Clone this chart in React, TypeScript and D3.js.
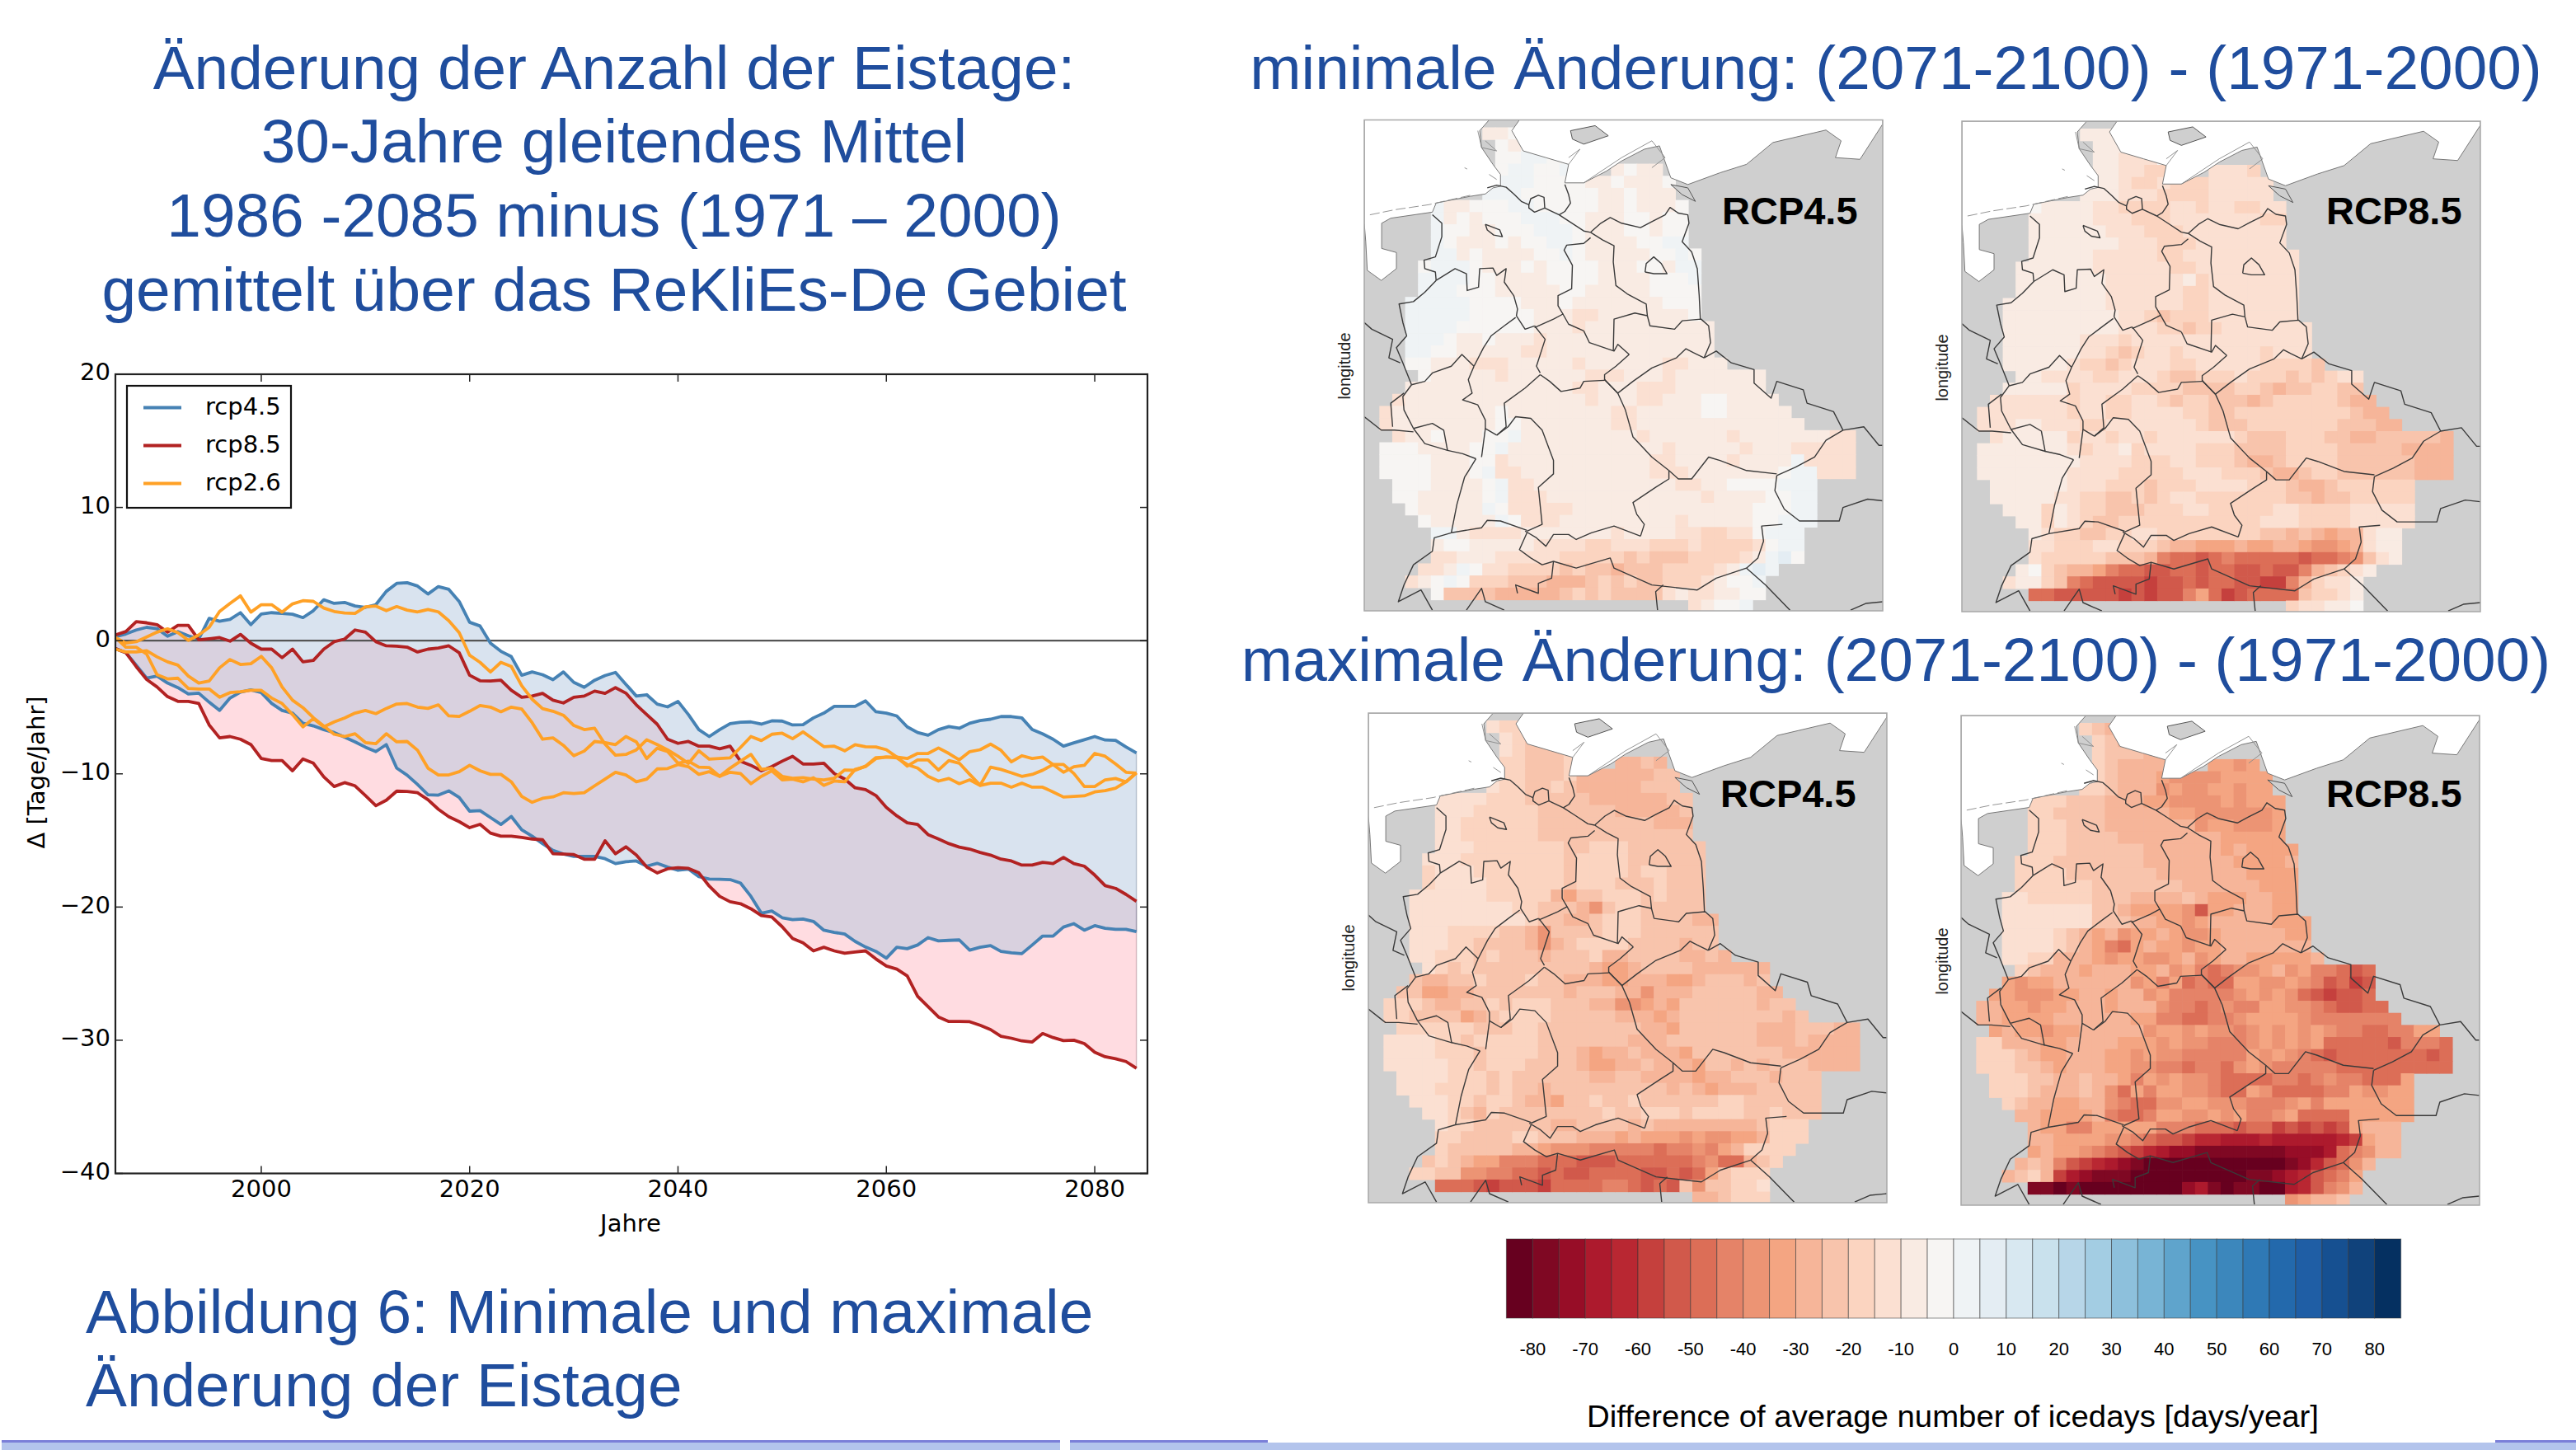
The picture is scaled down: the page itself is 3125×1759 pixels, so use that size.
import React from "react";
import * as d3 from "d3";

// ---------- line chart data (one value per year, 1986..2084) ----------
const years = d3.range(1986, 2085);
const rcp45Max = [0.3,0.5,0.8,1.0,0.9,0.33,0.68,0.37,0.12,1.67,1.46,1.6,2.1,1.2,2.0,2.1,2.04,1.98,1.73,2.25,3.07,2.8,2.87,2.6,2.5,2.7,3.7,4.3,4.35,4.1,3.5,4.06,3.85,2.94,1.38,1.1,-0.19,-0.8,-1.2,-2.6,-2.35,-2.56,-2.93,-2.35,-3.13,-3.5,-2.97,-2.62,-2.39,-3.28,-4.16,-4.06,-4.76,-4.97,-4.56,-5.55,-6.68,-7.2,-6.68,-6.23,-6.12,-6.1,-6.27,-6.02,-6.04,-6.33,-6.31,-5.8,-5.44,-4.93,-4.93,-4.93,-4.52,-5.34,-5.44,-5.65,-6.47,-6.9,-7.1,-6.68,-6.45,-6.58,-6.2,-6.0,-5.9,-5.7,-5.7,-5.8,-6.68,-7.0,-7.4,-7.92,-7.67,-7.44,-7.2,-7.46,-7.49,-7.98,-8.43];
const rcp45Min = [-0.6,-0.9,-1.85,-2.82,-2.66,-3.18,-3.53,-4.0,-3.94,-4.62,-5.24,-4.31,-3.86,-3.7,-3.9,-4.72,-5.24,-5.44,-6.2,-6.4,-6.68,-6.9,-7.24,-7.6,-8.0,-8.33,-7.8,-9.57,-10.1,-10.8,-11.57,-11.6,-11.28,-11.77,-12.8,-12.76,-13.28,-13.8,-13.2,-14.2,-14.68,-15.24,-15.75,-16.02,-16.2,-16.2,-16.2,-16.37,-16.74,-16.6,-16.54,-16.93,-16.72,-17,-17.24,-17.15,-17.72,-17.9,-17.92,-17.94,-18.2,-19.2,-20.46,-20.3,-20.8,-20.95,-20.9,-21.08,-21.74,-21.9,-22.03,-22.58,-23.0,-23.33,-23.84,-23.02,-23.13,-22.85,-22.3,-22.54,-22.5,-22.47,-23.24,-23.02,-22.9,-23.33,-23.44,-23.5,-22.85,-22.18,-22.18,-21.5,-21.25,-21.74,-21.4,-21.6,-21.67,-21.67,-21.85];
const rcp85Max = [0.43,0.68,1.42,1.34,1.2,0.64,1.15,1.15,0.06,0.14,0.23,-0.04,0.47,-0.19,-0.64,-0.64,-1.28,-0.64,-1.59,-1.48,-0.64,-0.08,0.12,0.8,0.64,-0.08,-0.39,-0.41,-0.49,-0.85,-0.64,-0.56,-0.39,-0.91,-2.6,-3.01,-3.03,-2.97,-3.73,-4.25,-4.16,-3.96,-4.47,-4.68,-4.25,-4.16,-3.79,-3.96,-3.53,-3.94,-4.82,-5.55,-6.27,-7.4,-7.71,-7.57,-7.92,-7.92,-8.12,-7.92,-9.05,-9.36,-9.77,-9.46,-9.05,-8.68,-9.26,-9.26,-9.2,-9.98,-10.39,-11.05,-11.18,-11.63,-12.52,-13.15,-13.67,-13.8,-14.56,-14.89,-15.24,-15.5,-15.65,-15.9,-16.1,-16.4,-16.54,-16.85,-16.85,-16.64,-16.74,-16.27,-16.74,-16.93,-17.6,-18.39,-18.6,-19.05,-19.57];
const rcp85Min = [-0.6,-0.9,-1.95,-2.91,-3.48,-4.2,-4.56,-4.56,-4.72,-6.33,-7.3,-7.2,-7.4,-7.8,-8.85,-9.0,-9.0,-9.77,-8.88,-9.2,-10.23,-10.95,-10.66,-10.9,-11.63,-12.39,-11.98,-11.3,-11.32,-11.42,-11.94,-12.66,-13.22,-13.59,-14.04,-13.79,-14.45,-14.68,-14.68,-14.78,-14.89,-14.95,-16.0,-16.02,-16.06,-16.41,-16.41,-15.03,-16.0,-15.48,-16.1,-17,-17.44,-17.13,-17.05,-17.1,-17.43,-18.43,-19.2,-19.6,-19.75,-20.13,-20.64,-20.75,-21.48,-22.36,-22.69,-23.29,-23.02,-23.29,-23.47,-23.37,-23.29,-23.9,-24.43,-24.66,-25.17,-26.7,-27.48,-28.25,-28.59,-28.59,-28.61,-28.88,-29.2,-29.7,-29.85,-30.05,-30.13,-29.5,-29.8,-30.03,-30.0,-30.25,-30.9,-31.24,-31.39,-31.6,-32.1];
const rcp26A = [0.23,-0.19,-0.08,0.27,0.64,0.89,0.6,0.02,0.43,1.0,2.19,2.8,3.36,2.14,2.7,2.7,2.14,2.76,3.0,2.95,2.45,2.19,2.08,2.04,2.54,2.6,2.25,2.56,2.29,2.16,2.34,2.16,1.5,0.6,-1.1,-1.63,-2.35,-1.63,-1.94,-3.38,-4.4,-5.1,-5.3,-5.6,-6.37,-6.68,-6.58,-7.77,-8.6,-8.54,-8.2,-7.44,-7.8,-8.2,-8.68,-9.22,-8.27,-8.9,-8.85,-8.8,-8.02,-7.2,-7.5,-7.03,-6.95,-7.36,-6.85,-7.4,-7.96,-7.92,-8.27,-7.81,-7.96,-7.98,-8.19,-8.74,-9.42,-8.95,-8.95,-9.71,-9.0,-9.2,-10.04,-10.85,-9.5,-9.67,-9.92,-10.19,-10.04,-9.73,-9.3,-9.3,-9.98,-10.95,-10.95,-10.45,-10.35,-10.6,-9.92];
const rcp26B = [0.23,-0.49,-0.49,-1.01,-2.56,-2.87,-2.82,-3.59,-3.63,-3.63,-4.25,-3.9,-3.84,-3.73,-3.73,-4.31,-4.72,-5.55,-6.47,-5.86,-6.47,-6.1,-5.81,-5.44,-5.24,-5.48,-5.09,-4.76,-4.72,-4.99,-5.09,-4.82,-5.65,-5.69,-5.3,-4.87,-4.99,-5.34,-4.99,-5.13,-6.16,-7.4,-7.3,-7.86,-8.64,-8.29,-7.57,-7.65,-7.81,-7.2,-7.6,-8.85,-8.08,-8.33,-9.2,-9.05,-9.5,-9.53,-10.19,-9.57,-9.05,-8.54,-9.67,-9.57,-10.19,-10.33,-10.29,-10.39,-10.45,-10.33,-9.71,-9.73,-9.42,-8.78,-8.74,-8.74,-8.85,-8.47,-8.47,-8.06,-8.47,-8.95,-8.33,-8.19,-7.77,-8.23,-9.1,-8.64,-8.85,-8.74,-9.3,-9.88,-9.47,-9.36,-8.47,-8.68,-9.26,-9.88,-9.94];
const rcp26C = [-0.64,-0.85,-0.85,-0.76,-1.22,-1.59,-1.84,-2.66,-3.18,-3.03,-2.04,-1.42,-1.79,-1.73,-1.18,-2.04,-3.48,-4.47,-5.03,-5.79,-6.41,-7.03,-7.2,-6.99,-7.65,-7.73,-6.99,-7.6,-7.57,-8.23,-9.57,-10.08,-10.08,-9.84,-9.36,-9.77,-10.04,-10.04,-10.6,-11.69,-12.14,-11.84,-11.73,-11.42,-11.48,-11.42,-10.9,-10.4,-9.88,-10.08,-10.6,-10.4,-9.63,-9.6,-9.3,-9.46,-10.04,-9.84,-10.19,-9.88,-9.98,-10.74,-10.19,-9.77,-10.45,-10.4,-10.6,-10.29,-10.87,-10.54,-10.6,-9.67,-9.46,-8.85,-8.74,-8.8,-9.3,-9.57,-10.19,-10.54,-10.35,-10.74,-10.45,-10.87,-10.7,-10.7,-11.0,-10.7,-11.0,-11.0,-11.36,-11.74,-11.7,-11.65,-11.36,-11.26,-11.07,-10.6,-9.92];
const yTicks = [-40, -30, -20, -10, 0, 10, 20];
const xTicks = [2000, 2020, 2040, 2060, 2080];
const legendItems = [["rcp4.5", "#4682b4"], ["rcp8.5", "#b22222"], ["rcp2.6", "#ffa126"]];

// ---------- colour legend ----------
const ramp = ["#67001f","#7f0823","#970d27","#ad1a2d","#b92732","#c5403d","#d1594b","#dc6e57","#e58368","#ec9474","#f4a582","#f6b599","#f8c4ac","#fbd4c0","#fbe0d2","#f9ebe3","#f7f5f3","#eff3f5","#e4edf3","#d8e8f1","#c9e1ed","#b7d6e8","#a3cde3","#8dc0dc","#78b4d5","#5fa4cc","#4793c3","#3c87bc","#2f79b5","#2369ac","#1f5ea5","#165091","#10427b","#053061"];
const rampKeys = "0123456789abcdefghi";
const rampLabels = d3.range(-80, 81, 10);

// ---------- map grids: each char is a colour class of the ramp, '.' = no data ----------
const mapMinRcp45 = [
"........ffgg",".........gfggf",".........gghhgg",".........ghhggh...fgff",".........hhhggggffgfffg","........hhhggggggffgfff",
"....hffggghhgggggffgfffg","....hfgfggghhhggfffggfgg","....hggffggghhhgfffggfgg","....hgfffgfgghhgffffgghh","....hhfgffffgghgfffffgghg",
"...ghhhgfffgfggggfffggfhh","...hhhhggffffggggffffgggh","...hhhgggfffffggfffffgggg","..hhhhhggggfffgfffffffggg","..hhhhhgggggfffeefffffffg",
"..hhhhggggggfffeffffffffff","..hhhgffgfffefffffffffffff","..hhggfffffeefffffffffffff","..ggfffeeefffffeffffffeefff","...gfffffeffffffeeefffefffffff",
"..fffffffffffffeefffeeefffffff",".effffffffffffffefffeefffggffff","effffffffgffffffffeefffffggfffff","effffffffggfffffffeefffffffffffff",".effgfffgghfffffffffeffffffefffffffee",
"gggffffgghffffffffffffefffffefffeeeee","ggggfffggefffffffffffeeffffeffffheeee","ggggfffgheeffffffffffeeefffffffghheee",".gggffffgheefffffffffffeeffgggghhh",".ggfffffgheeeffffffffffffeffffgghh",
"..gfffffhgeeeeeffffffffffffffggghh","...gfffffhgeeefffffffffefffffgghhh","....hhfeeeefffffffeffffeeddeeghhh","....fggfffffeeeeddeeedddeddddeghh","....eefffeeeeedddddcdcccddddefhig",
"...eefhgeeddddcdccbcccddddefhih","..efghgdddcccbbbcdcdccdddefggh","....gccccbbbbbcdcdccccefeeffgg","........................efggh"];
const mapMinRcp85 = [
"........fffe",".........fffee",".........ffeeeg",".........ffeedd...eeed",".........ffeddedddeeeee","........fffeeeddddeeeee",
"....gffffeeddddeedeeddee","....fffffeeedddeeeeeeedd","....ffffffeeedddeeeeeeee","....fffffffeeedddeeeeeee","....fffffeeeeeddeeeeeeeee",
"...ffffffeeeeeeddeeeeeeee","...fffffffeeeeeefdeeeeeee","...fffffffeeeeeeddeeeeeee","..ffffffffeeeeeeddeeeeeee","..fffffffffeedcdddeeeeeee",
"..fffffffffeeeddcddeeeeeee","..ffffffeeedeeeeeeeeeeeeee","..ffffffeedcdeedeeeeeedeee","..fffffeddcdeeeddeeeeeddddc","...ffeeeeddeeedccdddedddcdcdee",
"..fffffdeeeeddddccccddcbccddcc",".eeeeeedeeddeedcddcccbcdddddcbb","eeeeeeedeeddeeeeddccdddddddddcbb","eeeffeeeddeeeeeeedcccdddddddcccbb",".efffffdeedeedeeeeeedcccdddccbbcccccb",
"fffffffedeefdeeeedddccccddddcccccbbbb","ffffffffeeeedddeedddcbbcddddccccccbbb","fffffffeeeedddddeeedddcbbcddccccccbbb",".ffffffeeedddcdddeeeedddcbbcdddddd",".fffffeeddccdcdeedddddddccbccddddd",
"..fffdfeddcccdddeedddddeeddddeeeee","...ffdfedccdddddddddddeeeddddeeeee","....feddccddeeddddddddccbcbabbeff","....eedddeedddcbbaaabaabba99abeff","....edddddcccb8776787777767789cef",
"...fgdcbba8776677677667668bcdef","..effdc876666566767766558bdeef","....7766666565668a7567777cddef","........................deeffg"];
const mapMaxRcp45 = [
"........eddd",".........edccd",".........edcccd",".........ddcccd...bbcb",".........ddcccdbbbbbbcc","........eddccdcbbbbbccc",
"....eeeedddcccccbbbbbbcc","....eeedddddccccccbbbbbc","....eeddddddcccccccccbbb","....eeddddddcccccccccccc","....eeedddddddccdddcccccc",
"...eeeddddddddcddddcccccc","...deeedddddddcddddcddccc","...deeeeddddddcdddcccdccc","..eeeeeedddddbaccdddcdccc","..eeeeeeeeddcccb9cddccccc",
"..eeeeeeeeedccbbcdddccccbb","..eeeddddccb9ccccdddcccccc","..eeeddccccb9bcddddccccbcc","..eedddcdcccbcccdbbccccbbcb","...edcdcccccccccbaabccccbbbbbb",
"..cbbccdcccdccbbbaabbbaabcccbc",".ccaabbcccccccbcccbb9bbbcccccbb","dddcbbccdcdddcccbb99abaccccccbcc","ddccccabcddddcccccbbbabccccccccbc",".ddddddcccddccccccccbbaccccccbbbcccbb",
"eeeeddcdddddcccccccbbbcccccccbbbcbbbb","eeeedddcddddcccbabbcbbbacccccccbbbbbb","eeeeeddcdddccccbaabbcbbbaccbcbcccbbbb",".eeeedddcdccccccbbccbbbbabbcccbccc",".eeeddddcdccbcccccccccbcbabbbccccc",
"..eeeddcddcbbaccdccdccccccddcccccc","...eedcbdccccccccdccdddcddddccdccc","....eddccccccbbccccbcbbbbbbbbcddd","....ddccccddcccbbbabaaa9a99aabddd","....dcccccbba9998888878898abdddd",
"...cdcbaa8887776667777778977bcd","..ddcc9988776766777766767acddd","....7776566657777887676c9ccdde","........................bbcddd"];
const mapMaxRcp85 = [
"........dcbb",".........dcbbb",".........dcccbb",".........dcbbbb...aa9a",".........dcbbba9999aaaa","........ddcbbb9a99aa9aa",
"....dddcccbbbaa9999a9aaa","....ddccccbbbbbaa999999a","....dddcccbbbbbbb9aa999a","....dddccccbbbbbbbbaaaaa","....dddccccccbbbbbbabaaaa",
"...dddcccccccbbbbbbbaaaab","...ddddcccccccbbbbbbbaaaa","...ddddddcccccccbbbbbbaaa","..eedddddcccbbbbcbaaabbaa","..eeeeeeeccbaaaa96aabbbaa",
"..eeeeeeecccbbaa9abbbbbaaa","..eeeedcbab9aaba99abbbbbaa","..eeeedcba87abaa9aabbbbbbb","..eeddbbba9aa99ab9abbaaaaab","...dcbbbabbbaab9a87899ab9a88767",
"..a9aabbbbbb9a8a7877aa99a986756",".aa999aabbabb9a888889a9a9765667","bbaa9aabbbabbb98878988aa99876677","bbaaaabbbbbbaa8877889aaaa98888888",".abaa9aabbbbb9aa9a9989a9a9a9887788aa",
"ddbbbaabbbbaaa9a998889a9a9a7777768887","dddcbaabbbaa9a9988888a9a9876777777767","dddccbabbbaa998878879a988888777777777",".dddccbbcbba8a9a99877778878988777a",".dddcbbbcb97a8aa99877a9777788a99aa",
"..dcbbaabb987799aa9998889a8aaaaaaa","...bbaaaab8778aa99a9a889a7777aaaaa","....baa88aaaaa888777677565656abbb","....bbaaaa99876654433343333345abb","....abaa98765432211111112223789bb",
"...bcb865432100000000000124679b","..bcdb53211100000000011234678a","....1101000000002310110034689b","........................9abbc"];

// ---------- geography, in a shared map coordinate system ----------
const seaPolygon = [[120,38],[120,345],[124,400],[128,485],[165,515],[205,480],[205,432],[166,420],[166,345],[190,330],[300,312],[310,285],[400,265],[440,258],[460,240],[480,235],[480,200],[460,170],[430,120],[425,70],[450,38],[530,38],[510,70],[540,130],[600,150],[660,170],[650,225],[700,225],[760,190],[800,160],[860,125],[900,115],[930,210],[975,230],[1060,195],[1130,170],[1200,105],[1340,68],[1380,100],[1365,150],[1430,155],[1490,50],[1490,38]];
const islands = [[[665,70],[730,55],[765,85],[700,110],[670,95]],[[930,230],[975,240],[995,280],[960,260]]];
const coastLines = [
[[135,320],[200,305],[290,290],[400,262]],
[[420,70],[430,120],[470,130],[440,100]],[[660,170],[690,125],[660,150]],[[700,225],[800,150],[880,100],[915,150],[880,180]],
[[385,180],[392,184]],[[450,200],[470,215]],
];
const borders = [
[[445,240],[470,232],[495,238],[515,258],[535,280],[555,290]],
[[555,290],[560,272],[580,262],[595,268],[597,300],[570,312],[555,300],[555,290]],
[[650,230],[660,260],[665,285],[650,310],[635,320]],
[[597,300],[635,320],[665,342],[700,368],[718,372]],
[[718,372],[745,345],[770,328],[800,345],[850,358],[880,340],[915,320],[928,298],[950,315],[975,320],[978,345],[960,400],[985,430],[1000,480],[1005,560],[1008,630]],
[[718,372],[750,395],[780,412],[778,460],[785,530],[815,555],[865,585],[868,620]],
[[718,388],[700,405],[655,410],[648,425],[670,470],[668,540],[632,560],[632,590],[645,615]],
[[300,320],[325,345],[325,385],[308,445],[278,455],[280,480],[308,490],[310,515]],
[[310,515],[360,480],[390,495],[392,545],[422,535],[425,480],[460,478],[470,500],[495,480],[490,520],[515,560],[525,600],[522,620]],
[[310,515],[280,550],[250,578],[212,585],[222,640],[232,680],[205,715],[222,760],[245,825]],
[[245,825],[280,815],[300,790],[350,770],[378,735],[410,770]],
[[410,770],[435,715],[455,680],[490,650],[520,625]],
[[522,620],[545,660],[570,650]],
[[570,650],[598,690],[575,770],[585,790]],
[[570,655],[620,630],[645,615],[660,645],[700,665]],
[[700,665],[715,700],[780,725],[790,705],[820,735]],
[[868,620],[835,612],[780,630],[778,725]],
[[868,620],[875,650],[940,660],[960,635],[1010,630],[1030,650],[1035,700],[1018,745]],
[[1018,745],[990,730],[970,718],[945,745],[880,775],[830,815],[790,850],[755,810]],
[[820,735],[785,770],[755,795],[755,812]],
[[755,812],[700,815],[690,835],[640,845],[610,815],[585,795]],
[[585,795],[545,835],[490,880],[495,950],[470,975]],
[[410,770],[395,810],[405,850],[380,870],[420,885],[440,930],[440,955],[470,975]],
[[470,975],[500,950],[520,920],[560,925],[590,960],[620,1050],[620,1090],[580,1130],[590,1240],[550,1260]],
[[440,955],[430,1040]],
[[245,825],[222,860],[225,900],[250,955]],
[[250,955],[300,940],[330,960],[340,1020],[280,1000],[250,955]],
[[340,1020],[380,1030],[415,1045]],
[[415,1045],[385,1100],[365,1180],[350,1265]],
[[350,1265],[430,1250],[445,1228],[480,1230],[550,1258]],
[[545,1260],[575,1280],[600,1305],[620,1270],[660,1270],[680,1285],[720,1265],[780,1245],[850,1275]],
[[850,1275],[860,1240],[840,1210],[830,1175],[890,1130],[925,1105],[925,1080]],
[[925,1080],[950,1105],[985,1105],[1030,1040],[1060,1050],[1130,1080],[1210,1090]],
[[755,810],[790,850],[810,900],[830,980],[880,1040],[925,1080]],
[[1018,745],[1050,725],[1090,760],[1150,780],[1150,820],[1195,865],[1210,815],[1280,840],[1290,880],[1360,905],[1385,960]],
[[1385,960],[1340,990],[1310,1040],[1260,1070],[1210,1095]],
[[1385,960],[1440,950],[1480,1005],[1490,1005]],
[[1210,1095],[1205,1140],[1230,1195],[1270,1230],[1375,1230],[1385,1190],[1450,1165],[1490,1170]],
[[1225,1240],[1170,1245],[1175,1290],[1160,1340],[1130,1370],[1050,1400],[1000,1435],[880,1420],[780,1370],[770,1340],[680,1370],[620,1350],[590,1360],[560,1340],[530,1315],[550,1265]],
[[620,1350],[615,1400],[580,1415],[580,1445],[520,1420],[525,1445]],
[[350,1265],[305,1280],[300,1320],[250,1360],[225,1420],[210,1470],[270,1435],[300,1495]],
[[390,1495],[430,1430],[440,1470],[490,1495]],
[[1130,1370],[1180,1420],[1245,1495]],
[[895,1495],[890,1440],[910,1420]],
[[1405,1495],[1445,1475],[1490,1470]],
[[120,640],[140,660],[195,690],[185,745],[215,760]],
[[120,920],[165,960],[200,960],[250,965]],
[[225,850],[190,880],[195,950]],
[[440,348],[478,365],[485,385],[462,380],[445,365],[440,348]],
[[862,490],[865,465],[885,445],[905,465],[920,495],[885,495],[862,490]],
];

const mapPanels = [
  { grid: mapMinRcp45, frame: [1655, 145.5, 2284, 741], label: "RCP4.5", lx: 2089, ly: 272, ax: 1638, ay: 444 },
  { grid: mapMinRcp85, frame: [2380, 147, 3009, 742], label: "RCP8.5", lx: 2822, ly: 272, ax: 2363, ay: 446 },
  { grid: mapMaxRcp45, frame: [1660, 865, 2289, 1459], label: "RCP4.5", lx: 2087, ly: 979, ax: 1643, ay: 1162 },
  { grid: mapMaxRcp85, frame: [2379, 868, 3008, 1462], label: "RCP8.5", lx: 2822, ly: 979, ax: 2363, ay: 1166 },
];

const titleColor = "#1f4d9d";
const sans = "'Liberation Sans', Arial, sans-serif";
const dejavu = "'DejaVu Sans', sans-serif";
const titleSize = 74.8;
const leftTitle = ["Änderung der Anzahl der Eistage:", "30-Jahre gleitendes Mittel", "1986 -2085 minus (1971 – 2000)", "gemittelt über das ReKliEs-De Gebiet"];
const leftBaselines = [108, 197, 287, 377];

function GridMap({ panel, id }: any) {
  const [x0, y0, x1, y1] = panel.frame;
  const gx = d3.scaleLinear().domain([120, 1490]).range([x0, x1]);
  const gy = d3.scaleLinear().domain([38, 1497]).range([y0, y1]);
  const col = d3.scaleLinear().domain([0, 37]).range([160, 160 + 34 * 37]);
  const row = d3.scaleLinear().domain([0, 40]).range([60, 60 + 36 * 40]);
  const line = d3.line<number[]>().x((d) => gx(d[0])).y((d) => gy(d[1]));
  const cells: any[] = [];
  panel.grid.forEach((r: string, ri: number) => {
    r.split("").forEach((ch: string, ci: number) => {
      const k = rampKeys.indexOf(ch);
      if (k < 0) return;
      const left = gx(col(ci)), right = gx(col(ci + 1));
      const top = gy(row(ri)), bot = gy(row(ri + 1));
      cells.push(<rect key={ri + "-" + ci} x={left} y={top} width={right - left + 0.6} height={bot - top + 0.6} fill={ramp[k]} />);
    });
  });
  return (
    <g>
      <clipPath id={id}><rect x={x0} y={y0} width={x1 - x0} height={y1 - y0} /></clipPath>
      <g clipPath={`url(#${id})`}>
        <rect x={x0} y={y0} width={x1 - x0} height={y1 - y0} fill="#cfcfcf" />
        <g>{cells}</g>
        <path d={line(seaPolygon as any) + "Z"} fill="#fff" stroke="#777" strokeWidth={1} />
        {islands.map((p, i) => <path key={i} d={line(p as any) + "Z"} fill="#cfcfcf" stroke="#555" strokeWidth={1} />)}
        {coastLines.map((b, i) => <path key={i} d={line(b as any) as string} fill="none" stroke="#888" strokeWidth={0.9} strokeDasharray={i === 0 ? "12 4" : undefined} />)}
        {borders.map((b, i) => <path key={i} d={line(b as any) as string} fill="none" stroke="#3a3a3a" strokeWidth={1.4} strokeLinejoin="round" />)}
      </g>
      <rect x={x0} y={y0} width={x1 - x0} height={y1 - y0} fill="none" stroke="#a8a8a8" strokeWidth={1.5} />
      <text x={panel.lx} y={panel.ly} fontFamily={sans} fontWeight="bold" fontSize={47}>{panel.label}</text>
      <text transform={`translate(${panel.ax},${panel.ay}) rotate(-90)`} textAnchor="middle" fontFamily={sans} fontSize={20} fill="#222">longitude</text>
    </g>
  );
}

export default function App() {
  const x = d3.scaleLinear().domain([1986, 2085.06]).range([140, 1392]);
  const y = d3.scaleLinear().domain([-40, 20]).range([1423.5, 454]);
  const line = d3.line<number>().x((_, i) => x(years[i])).y((d) => y(d));
  const band = (lo: number[], hi: number[]) =>
    d3.area<number>().x((_, i) => x(years[i])).y0((_, i) => y(lo[i])).y1((_, i) => y(hi[i]))(years as any) as string;
  const [px0, px1] = x.range();
  const [py0, py1] = y.range();
  const swatch = d3.scaleLinear().domain([-85, 85]).range([1827.4, 2912.6]);
  return (
    <svg width={3125} height={1759} style={{ position: "absolute", left: 0, top: 0, background: "#fff" }}>
      {leftTitle.map((t, i) => (
        <text key={t} x={745} y={leftBaselines[i]} textAnchor="middle" fontFamily={sans} fontSize={titleSize} fill={titleColor}>{t}</text>
      ))}
      <text x={2300} y={108} textAnchor="middle" fontFamily={sans} fontSize={titleSize} fill={titleColor}>minimale Änderung: (2071-2100) - (1971-2000)</text>
      <text x={2300} y={826} textAnchor="middle" fontFamily={sans} fontSize={titleSize} fill={titleColor}>maximale Änderung: (2071-2100) - (1971-2000)</text>
      <text x={104} y={1617} fontFamily={sans} fontSize={titleSize} fill={titleColor}>Abbildung 6: Minimale und maximale</text>
      <text x={104} y={1706} fontFamily={sans} fontSize={titleSize} fill={titleColor}>Änderung der Eistage</text>

      {/* line chart */}
      <path d={band(rcp85Min, rcp85Max)} fill="#ffb6c1" fillOpacity={0.48} stroke="#8a5a66" strokeOpacity={0.35} strokeWidth={1.5} />
      <path d={band(rcp45Min, rcp45Max)} fill="#b0c4de" fillOpacity={0.48} stroke="#5a6a88" strokeOpacity={0.35} strokeWidth={1.5} />
      <line x1={px0} x2={px1} y1={y(0)} y2={y(0)} stroke="#555" strokeWidth={2.2} />
      {[rcp45Max, rcp45Min].map((s, i) => <path key={i} d={line(s) as string} fill="none" stroke="#4682b4" strokeWidth={3.8} strokeLinejoin="round" />)}
      {[rcp85Max, rcp85Min].map((s, i) => <path key={i} d={line(s) as string} fill="none" stroke="#b22222" strokeWidth={3.8} strokeLinejoin="round" />)}
      {[rcp26C, rcp26B, rcp26A].map((s, i) => <path key={i} d={line(s) as string} fill="none" stroke="#ffa126" strokeWidth={3.8} strokeLinejoin="round" />)}
      <rect x={px0} y={py1} width={px1 - px0} height={py0 - py1} fill="none" stroke="#222" strokeWidth={2.2} />
      {yTicks.map((t) => (
        <g key={t}>
          <line x1={px0} x2={px0 + 9} y1={y(t)} y2={y(t)} stroke="#222" strokeWidth={1.5} />
          <line x1={px1 - 9} x2={px1} y1={y(t)} y2={y(t)} stroke="#222" strokeWidth={1.5} />
          <text x={134} y={y(t) - 3} dy="0.36em" textAnchor="end" fontFamily={dejavu} fontSize={29}>{t < 0 ? "\u2212" + -t : t}</text>
        </g>
      ))}
      {xTicks.map((t) => (
        <g key={t}>
          <line x1={x(t)} x2={x(t)} y1={py0} y2={py0 - 9} stroke="#222" strokeWidth={1.5} />
          <line x1={x(t)} x2={x(t)} y1={py1} y2={py1 + 9} stroke="#222" strokeWidth={1.5} />
          <text x={x(t)} y={1452} textAnchor="middle" fontFamily={dejavu} fontSize={29}>{t}</text>
        </g>
      ))}
      <text x={765} y={1494} textAnchor="middle" fontFamily={dejavu} fontSize={29}>Jahre</text>
      <text transform="translate(54,937) rotate(-90)" textAnchor="middle" fontFamily={dejavu} fontSize={29}>Δ [Tage/Jahr]</text>
      <rect x={154} y={468} width={199} height={148} fill="#fff" stroke="#111" strokeWidth={2.2} />
      {legendItems.map(([name, c], i) => (
        <g key={name}>
          <line x1={174} x2={220} y1={494.5 + 46 * i} y2={494.5 + 46 * i} stroke={c} strokeWidth={3.8} />
          <text x={249} y={503 + 46 * i} fontFamily={dejavu} fontSize={29}>{name}</text>
        </g>
      ))}

      {/* maps */}
      {mapPanels.map((p, i) => <GridMap key={i} panel={p} id={"mapclip" + i} />)}

      {/* colour legend */}
      {ramp.map((c, i) => (
        <rect key={c} x={swatch(-85 + 5 * i)} y={1503} width={swatch(-80) - swatch(-85)} height={96} fill={c} stroke="#333" strokeOpacity={0.55} strokeWidth={1} />
      ))}
      {rampLabels.map((v) => (
        <text key={v} x={swatch(v)} y={1644} textAnchor="middle" fontFamily={sans} fontSize={22}>{v}</text>
      ))}
      <text x={2369} y={1731} textAnchor="middle" fontFamily={sans} fontSize={37} textLength={888} lengthAdjust="spacingAndGlyphs">Difference of average number of icedays [days/year]</text>

      {/* footer bars */}
      <rect x={2} y={1750} width={1284} height={9} fill="#b3c4ec" />
      <rect x={2} y={1747} width={1284} height={3} fill="#7b7fd8" />
      <rect x={1298} y={1750} width={1827} height={9} fill="#b3c4ec" />
      <rect x={1298} y={1747} width={240} height={3} fill="#7b7fd8" />
      <rect x={3027} y={1747} width={98} height={3} fill="#7b7fd8" />
    </svg>
  );
}
